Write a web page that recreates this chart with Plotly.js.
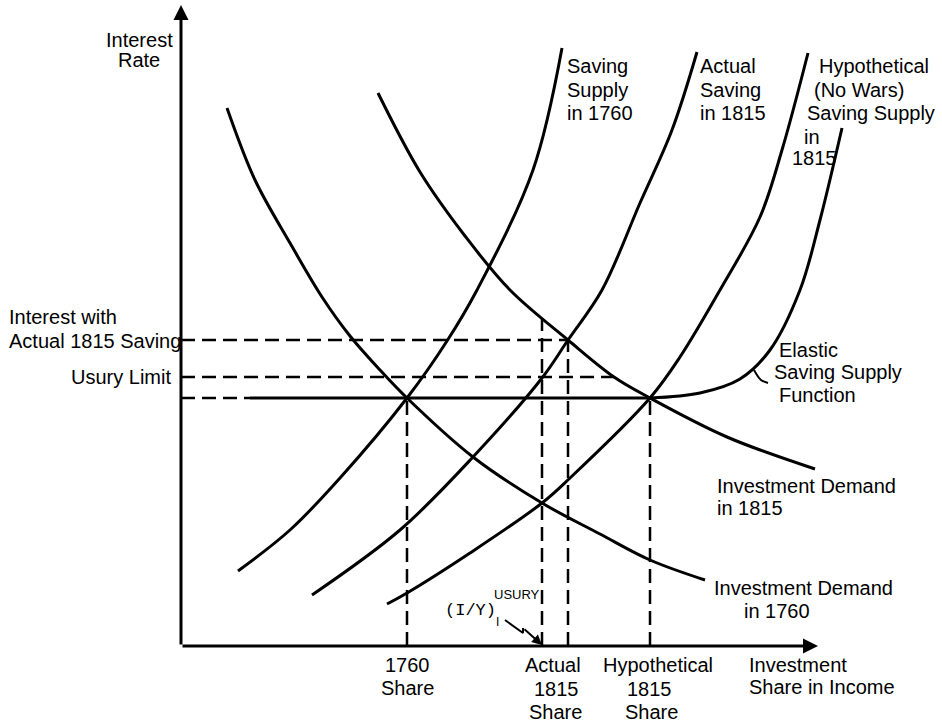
<!DOCTYPE html>
<html><head><meta charset="utf-8">
<script src="https://cdn.plot.ly/plotly-3.0.1.min.js"></script>
<style>html,body{margin:0;padding:0;background:#fff;}#chart{width:942px;height:722px;}</style>
</head><body><div id="chart"></div>
<script>
// x = investment share in income, y = interest rate (schematic units, origin at the axes' crossing)
const demand1760X = [46, 74, 109, 141, 169, 199, 226, 292, 361, 419, 469, 524];
const demand1760Y = [538, 466, 403, 349, 310, 276, 248, 189, 143, 112, 86, 66];
const demand1815X = [197, 239, 284, 329, 387, 433, 469, 546, 634];
const demand1815Y = [553, 474, 410, 356, 306, 269, 248, 209, 177];
const saving1760X = [57, 109, 159, 226, 266, 296, 352, 381];
const saving1760Y = [75, 116, 168, 248, 305, 356, 476, 598];
const savingActual1815X = [131, 219, 292, 361, 387, 421, 459, 491, 516];
const savingActual1815Y = [51, 116, 189, 268, 306, 356, 443, 516, 594];
const savingHypo1815X = [206, 226, 289, 361, 389, 469, 499, 539, 579, 601, 627];
const savingHypo1815Y = [42, 53, 93, 143, 168, 248, 289, 356, 429, 496, 593];
const elasticFlatX = [69, 469];
const elasticFlatY = [248, 248];
const elasticCurveX = [469, 519, 559, 589, 619, 639, 661];
const elasticCurveY = [248, 253, 267, 296, 356, 426, 518];

// reference levels
const rate1760 = 248, rateUsury = 269, rateActual1815 = 306;
const share1760 = 226, shareUsury = 361, shareActual1815 = 387, shareHypo1815 = 469;
const usuryLineEnd = 433, usuryShareTop = 328, elasticDashEnd = 69;
const xAxisEnd = 637, yAxisEnd = 641;
// zig-zag pointer for (I/Y) usury
const pointerX = [324, 342, 342];
const pointerY = [26, 13, 18];
// leader from the "Elastic Saving Supply Function" label to its curve
const leaderX = [587, 580, 573];
const leaderY = [263, 266, 276];

const ink = '#000';
const curve = (x, y) => ({x, y, type:'scatter', mode:'lines', line:{color:ink, width:3, shape:'spline', smoothing:1}, hoverinfo:'skip'});
const seg = (x, y, dash) => ({x, y, type:'scatter', mode:'lines', line:{color:ink, width:dash?2.5:3, dash: dash?'14px,7px':'solid'}, hoverinfo:'skip'});

const traces = [
  seg([0, shareActual1815], [rateActual1815, rateActual1815], true),
  seg([0, usuryLineEnd], [rateUsury, rateUsury], true),
  seg([0, elasticDashEnd], [rate1760, rate1760], true),
  seg([share1760, share1760], [0, rate1760], true),
  seg([shareUsury, shareUsury], [0, usuryShareTop], true),
  seg([shareActual1815, shareActual1815], [0, rateActual1815], true),
  seg([shareHypo1815, shareHypo1815], [0, rate1760], true),
  seg(elasticFlatX, elasticFlatY, false),
  curve(elasticCurveX, elasticCurveY),
  curve(demand1760X, demand1760Y),
  curve(demand1815X, demand1815Y),
  curve(saving1760X, saving1760Y),
  curve(savingActual1815X, savingActual1815Y),
  curve(savingHypo1815X, savingHypo1815Y),
  {x: pointerX, y: pointerY, type:'scatter', mode:'lines', line:{color:ink, width:2}, hoverinfo:'skip'},
  {x: leaderX, y: leaderY, type:'scatter', mode:'lines', line:{color:ink, width:2, shape:'spline'}, hoverinfo:'skip'}
];

const F = 'Liberation Sans, Arial, sans-serif';
const txt = (text, x, y, xa, opts) => Object.assign({text, x, y, xref:'x', yref:'y', xanchor:xa, yanchor:'middle', showarrow:false, font:{family:F, size:20, color:ink}}, opts||{});

const annotations = [
  // axes with arrowheads
  {x:xAxisEnd, y:0, ax:0, ay:0, xref:'x', yref:'y', axref:'x', ayref:'y', text:'', showarrow:true, arrowhead:2, arrowsize:1, arrowwidth:3, arrowcolor:ink},
  {x:0, y:yAxisEnd, ax:0, ay:0, xref:'x', yref:'y', axref:'x', ayref:'y', text:'', showarrow:true, arrowhead:2, arrowsize:1, arrowwidth:3, arrowcolor:ink},
  // pointer arrow end
  {x:shareUsury, y:1, ax:pointerX[2], ay:pointerY[2], xref:'x', yref:'y', axref:'x', ayref:'y', text:'', showarrow:true, arrowhead:2, arrowsize:1, arrowwidth:2, arrowcolor:ink},
  txt('Interest', -42, 606, 'center'),
  txt('Rate', -42, 586, 'center'),
  txt('Interest with', -174, 329, 'left'),
  txt('Actual 1815 Saving', -174, 305, 'left'),
  txt('Usury Limit', -8, rateUsury, 'right'),
  txt('1760', share1760, -19, 'center'),
  txt('Share', share1760, -42, 'center'),
  txt('Actual', 372, -19, 'center'),
  txt('1815', 375, -43, 'center'),
  txt('Share', 374, -66, 'center'),
  txt('Hypothetical', 477, -19, 'center'),
  txt('1815', 468, -43, 'center'),
  txt('Share', 470, -66, 'center'),
  txt('Investment', 566, -19, 'left'),
  txt('Share in Income', 566, -41, 'left'),
  txt('Saving', 384, 580, 'left'),
  txt('Supply', 384, 556, 'left'),
  txt('in 1760', 384, 533, 'left'),
  txt('Actual', 517, 580, 'left'),
  txt('Saving', 517, 556, 'left'),
  txt('in 1815', 517, 533, 'left'),
  txt('Hypothetical', 636, 580, 'left'),
  txt('(No Wars)', 631, 556, 'left'),
  txt('Saving Supply', 624, 533, 'left'),
  txt('in', 621, 509, 'left'),
  txt('1815', 609, 488, 'left'),
  txt('Elastic', 596, 296, 'left'),
  txt('Saving Supply', 591, 274, 'left'),
  txt('Function', 596, 251, 'left'),
  txt('Investment Demand', 534, 160, 'left'),
  txt('in 1815', 534, 138, 'left'),
  txt('Investment Demand', 531, 58, 'left'),
  txt('in 1760', 561, 35, 'left'),
  txt('(I/Y)', 262, 36, 'left', {font:{family:'Liberation Mono, monospace', size:17, color:ink}}),
  txt('USURY', 311, 52, 'left', {font:{family:F, size:13, color:ink}}),
  txt('I', 313, 24, 'left', {font:{family:F, size:12, color:ink}})
];

const layout = {
  width:942, height:722, margin:{l:0, r:0, t:0, b:0},
  paper_bgcolor:'#fff', plot_bgcolor:'#fff', showlegend:false, hovermode:false,
  xaxis:{range:[-181, 761], visible:false, fixedrange:true},
  yaxis:{range:[-76, 646], visible:false, fixedrange:true},
  annotations
};
Plotly.newPlot('chart', traces, layout, {staticPlot:true, displayModeBar:false});
</script></body></html>
